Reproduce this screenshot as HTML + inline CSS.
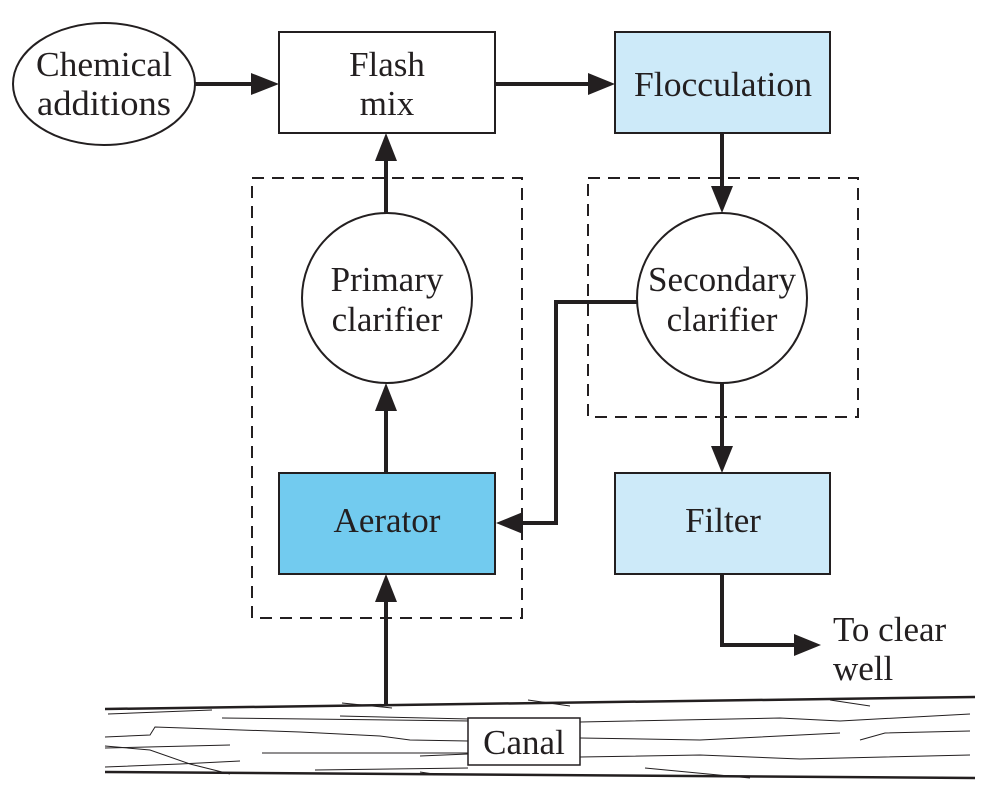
<!DOCTYPE html>
<html><head><style>html,body{margin:0;padding:0;background:#fff}</style></head>
<body>
<svg width="994" height="784" viewBox="0 0 994 784" xmlns="http://www.w3.org/2000/svg" font-family="Liberation Serif, serif" fill="none">
<g stroke="#231f20" stroke-width="2" stroke-dasharray="12,8">
<rect x="252" y="178" width="270" height="440"/>
<rect x="588" y="178" width="270" height="239"/>
</g>
<g stroke="#231f20" stroke-width="2">
<ellipse cx="104" cy="84" rx="91" ry="61" fill="#fff"/>
<rect x="279" y="32" width="216" height="101" fill="#fff"/>
<rect x="615" y="32" width="215" height="101" fill="#cdeaf9"/>
<circle cx="387" cy="298" r="85" fill="#fff"/>
<circle cx="722" cy="298" r="85" fill="#fff"/>
<rect x="279" y="473" width="216" height="101" fill="#72cbef"/>
<rect x="615" y="473" width="215" height="101" fill="#cdeaf9"/>
</g>
<g stroke="#231f20" stroke-width="4">
<line x1="195" y1="84" x2="255" y2="84"/>
<line x1="495" y1="84" x2="592" y2="84"/>
<line x1="386" y1="213" x2="386" y2="157"/>
<line x1="386" y1="473" x2="386" y2="407"/>
<line x1="386" y1="704" x2="386" y2="598"/>
<line x1="722" y1="133" x2="722" y2="190"/>
<line x1="722" y1="383" x2="722" y2="450"/>
<polyline points="637,302 556,302 556,523 519,523"/>
<polyline points="722,574 722,645 797,645"/>
</g>
<g fill="#231f20">
<polygon points="279,84 251,73 251,95"/>
<polygon points="615,84 588,73 588,95"/>
<polygon points="386,133 375,161 397,161"/>
<polygon points="386,383 375,411 397,411"/>
<polygon points="386,574 375,602 397,602"/>
<polygon points="722,213 711,186 733,186"/>
<polygon points="722,473 711,446 733,446"/>
<polygon points="496,523 523,512 523,534"/>
<polygon points="821,645 794,634 794,656"/>
</g>
<g stroke="#231f20" stroke-width="2.5">
<line x1="105" y1="709" x2="975" y2="697"/>
<line x1="105" y1="772" x2="975" y2="778"/>
</g>
<g stroke="#231f20" stroke-width="1">
<path d="M108 714 L212 710"/><path d="M340 716 L470 719"/><path d="M342 703 L392 708"/>
<path d="M105 737 L150 735 L155 727 L300 732 L380 736 L410 740 L468 741"/>
<path d="M222 718 L470 721"/><path d="M580 722 L780 718 L840 721 L970 714"/>
<path d="M528 700 L570 706"/><path d="M830 700 L870 706"/>
<path d="M105 748 L230 745"/><path d="M105 746 L150 750 L190 764 L230 774"/>
<path d="M105 767 L180 764 L240 761"/><path d="M262 753 L468 753"/>
<path d="M580 738 L700 740 L840 733"/><path d="M860 740 L885 733 L970 731"/>
<path d="M580 757 L700 755 L800 759 L970 755"/>
<path d="M315 770 L468 768"/><path d="M420 756 L468 754"/>
<path d="M420 772 L440 775"/><path d="M645 768 L750 778"/>
</g>
<rect x="468" y="718" width="112" height="47" fill="#fff" stroke="#231f20" stroke-width="1.5"/>
<g fill="#231f20" font-size="35" text-anchor="middle">
<text x="104" y="76" textLength="136" lengthAdjust="spacingAndGlyphs">Chemical</text>
<text x="104" y="115" textLength="134" lengthAdjust="spacingAndGlyphs">additions</text>
<text x="387" y="76">Flash</text>
<text x="387" y="115">mix</text>
<text x="723" y="96" textLength="178" lengthAdjust="spacingAndGlyphs">Flocculation</text>
<text x="387" y="291">Primary</text>
<text x="387" y="331">clarifier</text>
<text x="722" y="291" textLength="148" lengthAdjust="spacingAndGlyphs">Secondary</text>
<text x="722" y="331">clarifier</text>
<text x="387" y="532">Aerator</text>
<text x="723" y="532">Filter</text>
<text x="524" y="754">Canal</text>
<text x="833" y="641" text-anchor="start">To clear</text>
<text x="833" y="680" text-anchor="start">well</text>
</g>
</svg>
</body></html>
